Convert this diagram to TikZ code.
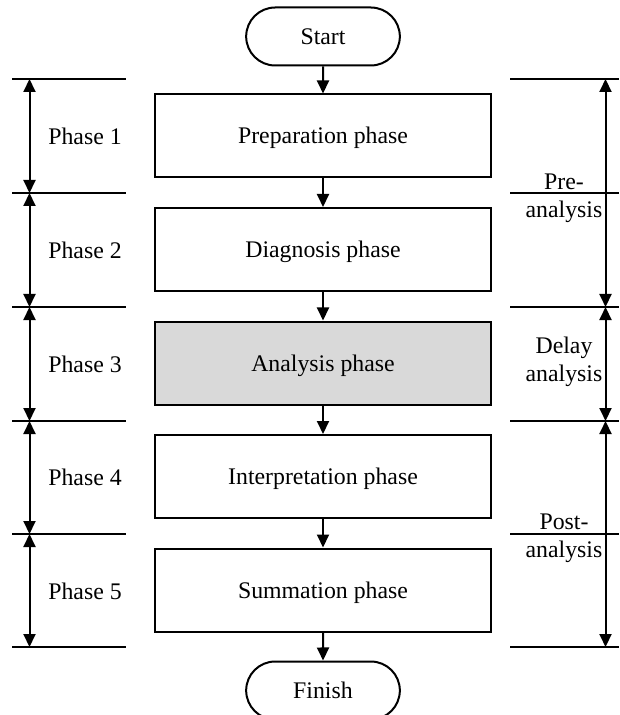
\documentclass[tikz,border=0pt]{standalone}
\usepackage{fontspec}
\setmainfont{Liberation Serif}
\usetikzlibrary{arrows.meta,positioning,shapes.misc}

\begin{document}
\begin{tikzpicture}[
  x=0.5pt, y=-0.5pt,
  phasebox/.style={draw, rectangle, line width=1pt,
                   minimum width=168pt, minimum height=41.5pt,
                   text height=8pt, text depth=0pt,
                   font=\fontsize{11.9}{14}\selectfont},
  term/.style={draw, rounded rectangle, line width=1pt,
               minimum width=83.5pt, minimum height=29pt,
               font=\fontsize{11.9}{14}\selectfont},
  lbl/.style={font=\fontsize{11.9}{14}\selectfont, align=center, inner sep=0pt},
  arr/.style={-{Triangle[length=6.5pt,width=6pt]}, line width=1pt},
  dimarr/.style={{Triangle[length=6.5pt,width=6pt]}-{Triangle[length=6.5pt,width=6pt]},
                 line width=1pt},
  rule/.style={line width=1.2pt},
  node distance=14.25pt
]
  \useasboundingbox (0,0) rectangle (619,715);

  %% Flow
  \node[phasebox] (prep) at (323,136) {Preparation phase};
  \node[term, above=13.5pt of prep] (start) {Start};
  \node[phasebox, below=of prep] (diag) {Diagnosis phase};
  \node[phasebox, fill=black!15, below=of diag] (anal) {Analysis phase};
  \node[phasebox, below=of anal] (interp) {Interpretation phase};
  \node[phasebox, below=of interp] (summ) {Summation phase};
  \node[term, below=14pt of summ] (finish) {Finish};

  \draw[arr] (start) -- (prep);
  \draw[arr] (prep) -- (diag);
  \draw[arr] (diag) -- (anal);
  \draw[arr] (anal) -- (interp);
  \draw[arr] (interp) -- (summ);
  \draw[arr] (summ) -- (finish);

  %% Phase limits
  \foreach \y [count=\i from 0] in {79,193,307,421,534,647} {
    \draw[rule] (12,\y) -- (126,\y);
    \draw[rule] (510,\y) -- (619,\y);
    \coordinate (l\i) at (29.5,\y);
    \coordinate (r\i) at (605.5,\y);
  }

  %% Left: phases
  \draw[dimarr] (l0) -- (l1);
  \draw[dimarr] (l1) -- (l2);
  \draw[dimarr] (l2) -- (l3);
  \draw[dimarr] (l3) -- (l4);
  \draw[dimarr] (l4) -- (l5);
  \node[lbl] (ph1) at (85,136) {Phase 1};
  \node[lbl] (ph2) at (85,250) {Phase 2};
  \node[lbl] (ph3) at (85,364) {Phase 3};
  \node[lbl] (ph4) at (85,477) {Phase 4};
  \node[lbl] (ph5) at (85,591) {Phase 5};

  %% Right: analysis stages
  \draw[dimarr] (r0) -- (r2);
  \draw[dimarr] (r2) -- (r3);
  \draw[dimarr] (r3) -- (r5);
  \node[lbl] (pre) at (564,198) {Pre-\\analysis};
  \node[lbl] (delay) at (564,362) {Delay\\analysis};
  \node[lbl] (post) at (564,538) {Post-\\analysis};
\end{tikzpicture}
\end{document}
